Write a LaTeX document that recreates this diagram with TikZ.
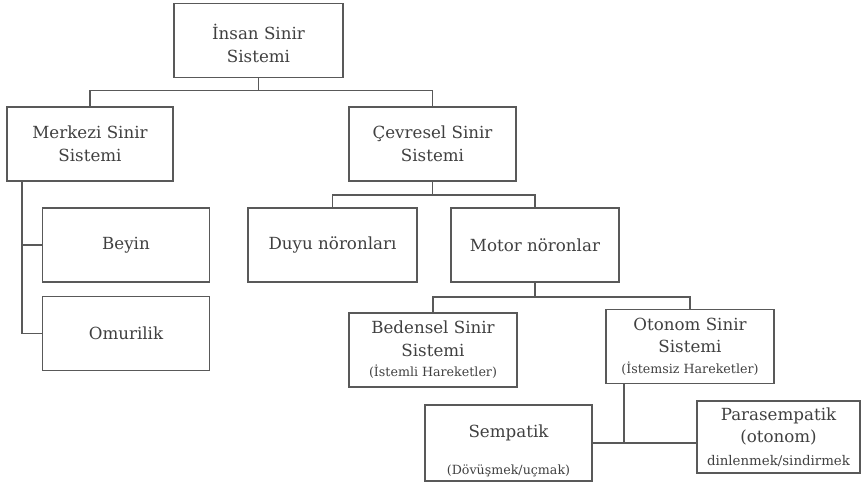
\documentclass[tikz,border=0pt]{standalone}
\usepackage{fontspec}
\setmainfont{DejaVu Serif}
\usetikzlibrary{positioning}

\tikzset{
  box/.style = {draw=black!65, line width=0.9pt, text=black!75, align=center,
    inner sep=1pt, minimum width=#1*0.02cm, minimum height=1.48cm,
    font=\fontsize{9.5}{12.8}\selectfont},
  box/.default = 168,
  link/.style = {draw=black!65, line width=0.9pt}
}
\newcommand{\sml}[1]{{\fontsize{7.2}{9}\selectfont #1}}

\begin{document}
\begin{tikzpicture}[x=0.02cm, y=-0.02cm]
\useasboundingbox (0,0) rectangle (863,485);

\node[box=169] (insan) at (258.5,40.5) {\rule{0pt}{12pt}İnsan Sinir\\Sistemi};
\node[box=166] (merkezi) at (90,144) {Merkezi Sinir\\Sistemi};
\node[box=167] (cevresel) at (432.5,144) {Çevresel Sinir\\Sistemi};
\node[box=167] (beyin) at (126,245) {Beyin};
\node[box=167] (omurilik) at (126,333.5) {Omurilik};
\node[box=169] (duyu) at (332.5,245) {Duyu nöronları};
\node[box=168] (motor) at (535,245) {Motor nöronlar};
\node[box=168] (bedensel) at (433,350) {Bedensel Sinir\\Sistemi\\[-1pt]\sml{(İstemli Hareketler)}};
\node[box=168] (otonom) at (690,346.5) {Otonom Sinir\\Sistemi\\[-1pt]\sml{(İstemsiz Hareketler)}};
\node[box=167, minimum height=1.52cm] (sempatik) at (508.5,443) {\rule{0pt}{16pt}Sempatik\\[8pt]\sml{(Dövüşmek/uçmak)}};
\node[box=163, minimum height=1.44cm] (para) at (778.5,437) {Parasempatik\\(otonom)\\{\fontsize{7.6}{9}\selectfont dinlenmek/sindirmek}};

% ana dallar
\draw[link] (insan.south) -- ++(0,12) -| (merkezi.north);
\draw[link] (insan.south) -- ++(0,12) -| (cevresel.north);

% merkezi sinir sistemi
\coordinate (mtrunk) at (22,181);
\draw[link] (mtrunk) |- (beyin.west);
\draw[link] (mtrunk) |- (omurilik.west);

% cevresel sinir sistemi
\draw[link] (cevresel.south) -- ++(0,13) -| (duyu.north);
\draw[link] (cevresel.south) -- ++(0,13) -| (motor.north);

% motor noronlar
\draw[link] (motor.south) -- ++(0,14) -| (bedensel.north);
\draw[link] (motor.south) -- ++(0,14) -| (otonom.north);

% otonom sinir sistemi
\coordinate (otrunk) at (624,384);
\draw[link] (sempatik.east) -- (para.west |- sempatik.east);
\draw[link] (otrunk) -- (otrunk |- sempatik.east);
\end{tikzpicture}
\end{document}
